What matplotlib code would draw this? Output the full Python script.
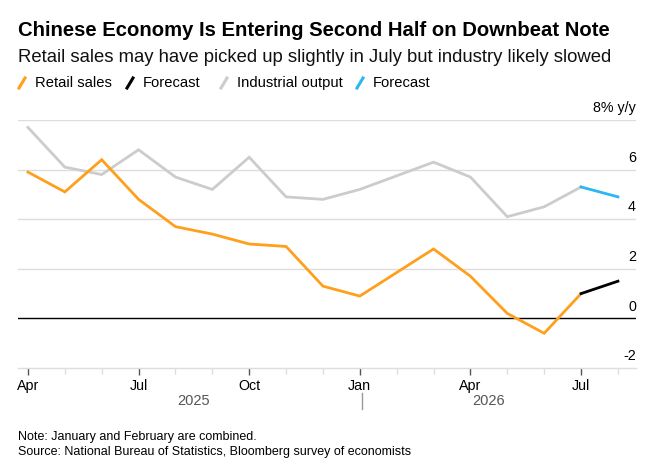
import matplotlib.pyplot as plt
from matplotlib.lines import Line2D

# Months since Apr 2025 (Jan and Feb 2026 are combined, so Feb is skipped)
meses = [0, 1, 2, 3, 4, 5, 6, 7, 8, 9, 11, 12, 13, 14, 15]
retail = [5.9, 5.1, 6.4, 4.8, 3.7, 3.4, 3.0, 2.9, 1.3, 0.9, 2.8, 1.7, 0.2, -0.6, 1.0]
industrial = [7.7, 6.1, 5.8, 6.8, 5.7, 5.2, 6.5, 4.9, 4.8, 5.2, 6.3, 5.7, 4.1, 4.5, 5.3]

# Forecast for August 2026
meses_fc = [15, 16]
retail_fc = [1.0, 1.5]
industrial_fc = [5.3, 4.9]

tick_pos = [0, 3, 6, 9, 12, 15]
tick_labels = ["Apr", "Jul", "Oct", "Jan", "Apr", "Jul"]
years = ["2025", "2026"]
y_ticks = [-2, 0, 2, 4, 6, 8]

NARANJA = "#FF9F1C"
GRIS = "#CCCCCC"
AZUL = "#2BB8F2"

plt.rcParams["font.family"] = ["Liberation Sans", "DejaVu Sans"]

fig = plt.figure(figsize=(6.64, 4.72), dpi=100)
W, H = 664, 472
ax = fig.add_axes([18 / W, 1 - 368 / H, (636 - 18) / W, (368 - 120) / H])

# gridlines
for v in y_ticks[1:]:
    if v == 0:
        ax.axhline(v, color="black", lw=1.0, zorder=2)
    else:
        ax.axhline(v, color="#DDDDDD", lw=1.0, zorder=1)

ax.plot(meses, industrial, color=GRIS, lw=2.0, zorder=3, solid_joinstyle="miter")
ax.plot(meses_fc, industrial_fc, color=AZUL, lw=2.0, zorder=3)
ax.plot(meses, retail, color=NARANJA, lw=2.0, zorder=4, solid_joinstyle="miter")
ax.plot(meses_fc, retail_fc, color="black", lw=2.0, zorder=4)

ax.set_xlim(-0.27, 16.49)
ax.set_ylim(-2, 8)

for s in ["top", "right", "left"]:
    ax.spines[s].set_visible(False)
ax.spines["bottom"].set_color("#DDDDDD")
ax.spines["bottom"].set_linewidth(1.0)

ax.set_yticks([])
for v in y_ticks:
    txt = "8% y/y" if v == 8 else str(v)
    ax.annotate(txt, xy=(1, v), xycoords=("axes fraction", "data"),
                xytext=(0, 3.5), textcoords="offset points",
                ha="right", va="bottom", fontsize=10.3, color="black")

ax.set_xticks(tick_pos)
ax.set_xticklabels(tick_labels, fontsize=10.3)
ax.set_xticks(range(0, 17), minor=True)
ax.tick_params(axis="x", which="major", length=5, width=1, color="#555555", pad=3)
ax.tick_params(axis="x", which="minor", length=4, width=1, color="#DDDDDD")

# year labels
ax.annotate(years[0], xy=(4.5, 0), xycoords=("data", "axes fraction"),
            xytext=(0, -24), textcoords="offset points",
            ha="center", va="center", fontsize=10.5, color="#555555")
ax.annotate(years[1], xy=(12.5, 0), xycoords=("data", "axes fraction"),
            xytext=(0, -24), textcoords="offset points",
            ha="center", va="center", fontsize=10.5, color="#555555")
fig.add_artist(Line2D([362 / W, 362 / W], [1 - 393 / H, 1 - 409 / H],
                      color="#999999", lw=1.0))

# title block
fig.text(18 / W, 1 - 30 / H, "Chinese Economy Is Entering Second Half on Downbeat Note",
         fontsize=14.6, fontweight="bold", va="center", ha="left")
fig.text(18 / W, 1 - 57 / H, "Retail sales may have picked up slightly in July but industry likely slowed",
         fontsize=13.3, va="center", ha="left", color="#111111")

# legend
items = [(NARANJA, "Retail sales", 19), ("black", "Forecast", 127),
         (GRIS, "Industrial output", 221), (AZUL, "Forecast", 357)]
for color, label, x0 in items:
    fig.add_artist(Line2D([x0 / W, (x0 + 6) / W], [1 - 88 / H, 1 - 78 / H],
                          color=color, lw=2.2))
    fig.text((x0 + 16) / W, 1 - 83 / H, label, fontsize=10.6, va="center", ha="left")

# notes
fig.text(18 / W, 1 - 437 / H, "Note: January and February are combined.",
         fontsize=9.0, va="center", ha="left")
fig.text(18 / W, 1 - 452 / H, "Source: National Bureau of Statistics, Bloomberg survey of economists",
         fontsize=9.0, va="center", ha="left")

fig.savefig("out.png", dpi=100)
